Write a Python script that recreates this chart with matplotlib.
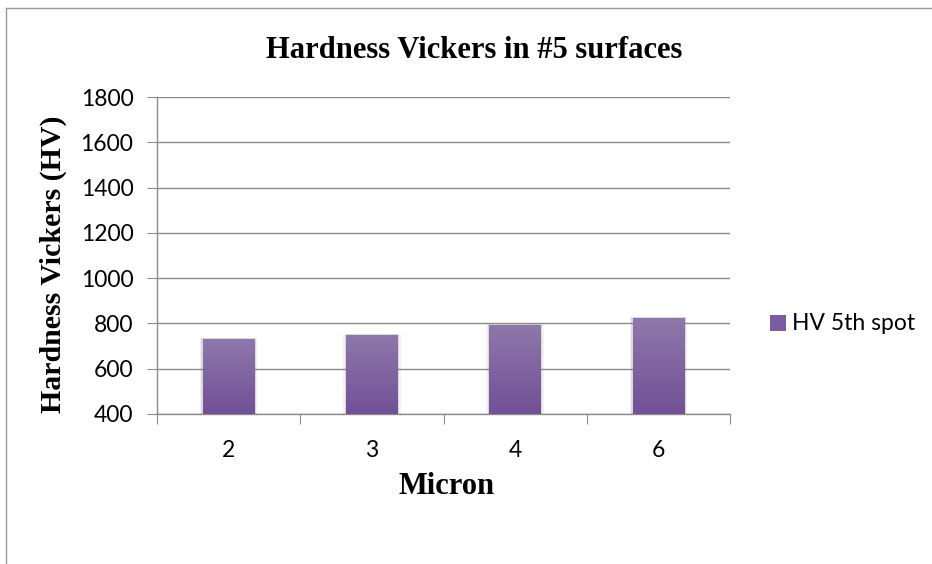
import numpy as np
import matplotlib
matplotlib.use("Agg")
import matplotlib.pyplot as plt
from matplotlib.colors import LinearSegmentedColormap
from matplotlib.patches import Rectangle
from matplotlib.lines import Line2D

categories = ["2", "3", "4", "6"]
hv_values = [732, 750, 794, 824]
series_name = "HV 5th spot"
y_ticks = [400, 600, 800, 1000, 1200, 1400, 1600, 1800]

W, H = 932, 564
fig = plt.figure(figsize=(W / 100, H / 100), dpi=100)
fig.patch.set_facecolor("white")

# chart-area border (left and top edges)
fig.add_artist(Line2D([6 / W, 6 / W], [0, 1 - 8 / H], transform=fig.transFigure,
                      color="#9a9a9a", lw=1.0))
fig.add_artist(Line2D([6 / W, 1], [1 - 8 / H, 1 - 8 / H], transform=fig.transFigure,
                      color="#9a9a9a", lw=1.0))

left, right, top, bottom = 157, 730, 97, 414
ax = fig.add_axes([left / W, 1 - bottom / H, (right - left) / W, (bottom - top) / H])

for s in ["top", "right"]:
    ax.spines[s].set_visible(False)
for s in ["left", "bottom"]:
    ax.spines[s].set_color("#8c8c8c")
    ax.spines[s].set_linewidth(1.0)

tick_font = dict(family="Lato", size=16.5)
ax.set_yticks(y_ticks)
ax.set_yticklabels([str(v) for v in y_ticks], fontdict=tick_font)
ax.yaxis.grid(True, color="#8c8c8c", lw=1.0)
ax.set_axisbelow(True)
ax.set_xticks(np.arange(-0.5, len(categories), 1.0))
ax.set_xticklabels([])
ax.set_xticks(np.arange(len(categories)), minor=True)
ax.set_xticklabels(categories, minor=True, fontdict=tick_font)
ax.tick_params(axis="x", which="major", length=7, color="#8c8c8c", direction="out")
ax.tick_params(axis="x", which="minor", length=0, pad=19)
ax.tick_params(axis="y", length=7, color="#8c8c8c", pad=10)

cmap = LinearSegmentedColormap.from_list("bar", ["#715096", "#8f78ab"])
bar_w = 0.36
grad = np.linspace(0, 1, 256).reshape(-1, 1)
bars = ax.bar(np.arange(len(categories)), np.array(hv_values) - y_ticks[0],
              bottom=y_ticks[0], width=bar_w, color="none", zorder=3)
for b in bars:
    x0, y0 = b.get_x(), b.get_y()
    w, h = b.get_width(), b.get_height()
    # soft shadow
    for k, a in [(0.020, 0.08), (0.011, 0.14)]:
        ax.add_patch(Rectangle((x0 - k, y0), w + 2 * k, h + k * 250, color="#555555",
                               alpha=a, lw=0, zorder=2))
    im = ax.imshow(grad, extent=[x0, x0 + w, y0, y0 + h], origin="lower", cmap=cmap,
                   aspect="auto", zorder=3)
    im.set_clip_path(b)
ax.set_xlim(-0.5, len(categories) - 0.5)
ax.set_ylim(y_ticks[0], y_ticks[-1])

serif_bold = dict(fontfamily="Liberation Serif", fontweight="bold")
fig.text(474 / W, 1 - 50 / H, "Hardness Vickers in #5 surfaces", ha="center", va="center",
         fontsize=22, **serif_bold)
fig.text(447 / W, 1 - 487 / H, "Micron", ha="center", va="center", fontsize=22, **serif_bold)
fig.text(53 / W, 1 - 264 / H, "Hardness Vickers (HV)", ha="center", va="center",
         rotation=90, fontsize=21.5, **serif_bold)

# legend
fig.add_artist(Rectangle((770 / W, 1 - 331 / H), 16 / W, 16 / H, transform=fig.transFigure,
                         color="#7b5c9e", lw=0))
fig.text(792 / W, 1 - 323 / H, series_name, ha="left", va="center", fontfamily="Lato",
         fontsize=16.5)

fig.savefig("out.png", dpi=100)
